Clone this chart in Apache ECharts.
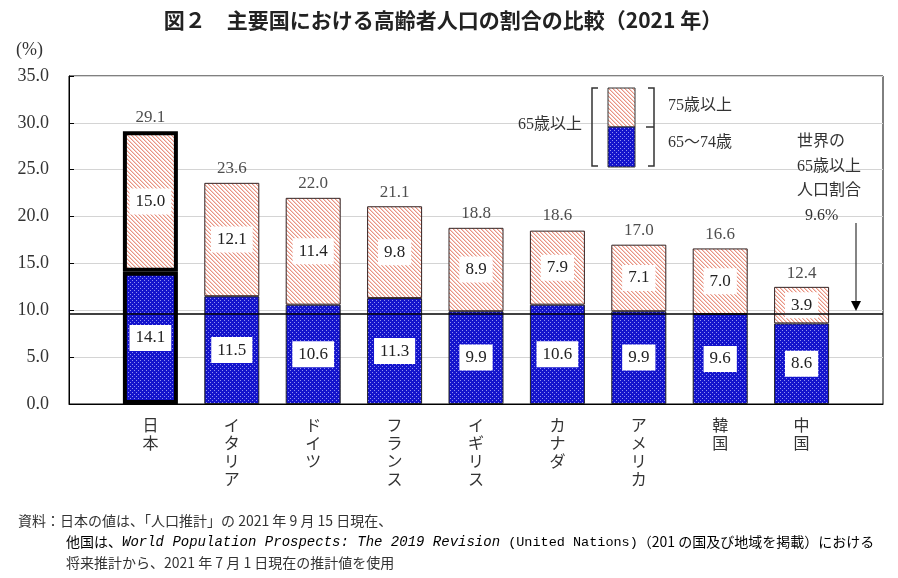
<!DOCTYPE html>
<html><head><meta charset="utf-8">
<script src="https://cdn.jsdelivr.net/npm/echarts@6/dist/echarts.min.js"></script>
<style>html,body{margin:0;padding:0;background:#fff}#c{width:898px;height:578px}</style>
</head><body><div id="c"></div>
<script>
// ---- data ----
const categories = ['日本','イタリア','ドイツ','フランス','イギリス','カナダ','アメリカ','韓国','中国'];
const age65to74 = [14.1, 11.5, 10.6, 11.3, 9.9, 10.6, 9.9, 9.6, 8.6];
const age75plus = [15.0, 12.1, 11.4, 9.8, 8.9, 7.9, 7.1, 7.0, 3.9];
const totals    = [29.1, 23.6, 22.0, 21.1, 18.8, 18.6, 17.0, 16.6, 12.4];
const worldShare = 9.6;
const yMin = 0, yMax = 35, yStep = 5;

// ---- patterns ----
function tile(w, h, draw){ const c=document.createElement('canvas'); c.width=w; c.height=h; draw(c.getContext('2d')); return c; }
const bluePat = tile(4,4,g=>{ g.fillStyle='#1414cc'; g.fillRect(0,0,4,4); g.fillStyle='#9090f0'; g.fillRect(0,0,1,1); g.fillRect(2,2,1,1); });
const pinkPat = tile(4,4,g=>{ g.fillStyle='#ffffff'; g.fillRect(0,0,4,4);
  for(let i=0;i<4;i++){ g.fillStyle='#e89484'; g.fillRect(i,i,1,1); g.fillStyle='#f6cfc6'; g.fillRect((i+1)%4,i,1,1); } });

const serif = "'Liberation Serif','DejaVu Serif','Noto Sans CJK JP'";
const jp = "'Noto Sans CJK JP'";

const axisCats = [''].concat(categories, ['']);
const pad = arr => ['-'].concat(arr, ['-']);
const emph = arr => pad(arr).map((v,i)=> i===1 ? {value:v, itemStyle:{borderColor:'#000', borderWidth:4}} : v);

const insideLabel = {show:true, position:'inside', formatter:p=>Number(p.value).toFixed(1),
  backgroundColor:'#fff', padding:[5,6,4,6], color:'#222', fontFamily:serif, fontSize:17};

const chart = echarts.init(document.getElementById('c'));
chart.setOption({
  animation:false,
  backgroundColor:'#fff',
  title:{text:'図２　主要国における高齢者人口の割合の比較（2021 年）', left:438, textAlign:'center', top:5,
    textStyle:{fontFamily:jp, fontSize:21, fontWeight:'bold', color:'#222'}},
  grid:{left:69, right:15, top:76, bottom:174, show:true, borderColor:'#000', borderWidth:1},
  xAxis:{type:'category', data:axisCats, boundaryGap:false,
    axisLine:{lineStyle:{color:'#000', width:1}}, axisTick:{show:false},
    axisLabel:{interval:0, margin:12, formatter:v=>v.split('').join('\n'), fontFamily:jp, fontSize:16, lineHeight:18, color:'#333'}},
  yAxis:{type:'value', min:yMin, max:yMax, interval:yStep,
    axisLine:{show:true, lineStyle:{color:'#000'}}, axisTick:{show:true, inside:true, length:5, lineStyle:{color:'#000'}},
    splitLine:{lineStyle:{color:'#d4d4d4'}},
    axisLabel:{formatter:v=>v.toFixed(1), fontFamily:serif, fontSize:18, color:'#333', margin:20}},
  series:[
    {name:'65～74歳', type:'bar', stack:'a', barWidth:55, data:emph(age65to74),
      itemStyle:{color:{image:bluePat, repeat:'repeat'}, borderColor:'#222', borderWidth:1},
      label:insideLabel,
      markLine:{silent:true, symbol:'none', label:{show:false}, lineStyle:{color:'#000', width:1.5, type:'solid'},
        data:[{yAxis:worldShare}], z:10}},
    {name:'75歳以上', type:'bar', stack:'a', barWidth:55, data:emph(age75plus),
      itemStyle:{color:{image:pinkPat, repeat:'repeat'}, borderColor:'#332222', borderWidth:1},
      label:insideLabel},
    {name:'total', type:'scatter', data:pad(totals), symbolSize:1, silent:true,
      itemStyle:{color:'transparent'},
      label:{show:true, position:'top', distance:5, formatter:p=>Number(p.value).toFixed(1), fontFamily:serif, fontSize:17, color:'#222'}}
  ]
});

const tipY = chart.convertToPixel({yAxisIndex:0}, worldShare);
const lineStyle = {stroke:'#333', lineWidth:1.5, fill:null};
chart.setOption({graphic:[
  {type:'text', left:16, top:41, style:{text:'(%)', font:"18px "+serif, fill:'#333'}},
  // legend
  {type:'rect', shape:{x:608, y:88, width:27, height:39}, style:{fill:{image:pinkPat, repeat:'repeat'}, stroke:'#333', lineWidth:1}},
  {type:'rect', shape:{x:608, y:127, width:27, height:40}, style:{fill:{image:bluePat, repeat:'repeat'}, stroke:'#333', lineWidth:1}},
  {type:'polyline', shape:{points:[[598,88],[592,88],[592,166],[598,166]]}, style:lineStyle},
  {type:'polyline', shape:{points:[[648,88],[654,88],[654,166],[648,166]]}, style:lineStyle},
  {type:'line', shape:{x1:646, y1:127, x2:654, y2:127}, style:lineStyle},
  {type:'text', x:582, y:125, style:{text:'65歳以上', font:"16px "+serif, fill:'#333', align:'right', verticalAlign:'middle'}},
  {type:'text', x:668, y:106, style:{text:'75歳以上', font:"16px "+serif, fill:'#333', verticalAlign:'middle'}},
  {type:'text', x:668, y:143, style:{text:'65～74歳', font:"16px "+serif, fill:'#333', verticalAlign:'middle'}},
  // world annotation
  {type:'text', x:797, y:130, style:{text:'世界の\n65歳以上\n人口割合\n  9.6%', font:"16px "+serif, fill:'#333', align:'left', lineHeight:24.5}},
  {type:'line', shape:{x1:856, y1:223, x2:856, y2:tipY-10}, style:{stroke:'#333', lineWidth:1.2}},
  {type:'polygon', shape:{points:[[851,tipY-13],[861,tipY-13],[856,tipY-3]]}, style:{fill:'#000'}},
  // footer
  {type:'text', x:18, y:514, style:{text:'資料：日本の値は、「人口推計」の 2021 年 9 月 15 日現在、', font:"14px "+jp, fill:'#333'}},
  {type:'text', x:66, y:535, style:{text:'{a|他国は、}{i|World Population Prospects: The 2019 Revision}{m| (United Nations)}{a|（201 の国及び地域を掲載）における}',
    rich:{a:{fontFamily:jp, fontSize:14, color:'#333'}, i:{fontFamily:"'Liberation Mono'", fontStyle:'italic', fontSize:14, color:'#333'},
          m:{fontFamily:"'Liberation Mono'", fontSize:13.5, color:'#333'}}}},
  {type:'text', x:66, y:556, style:{text:'将来推計から、2021 年 7 月 1 日現在の推計値を使用', font:"14px "+jp, fill:'#333'}}
]});
</script></body></html>
